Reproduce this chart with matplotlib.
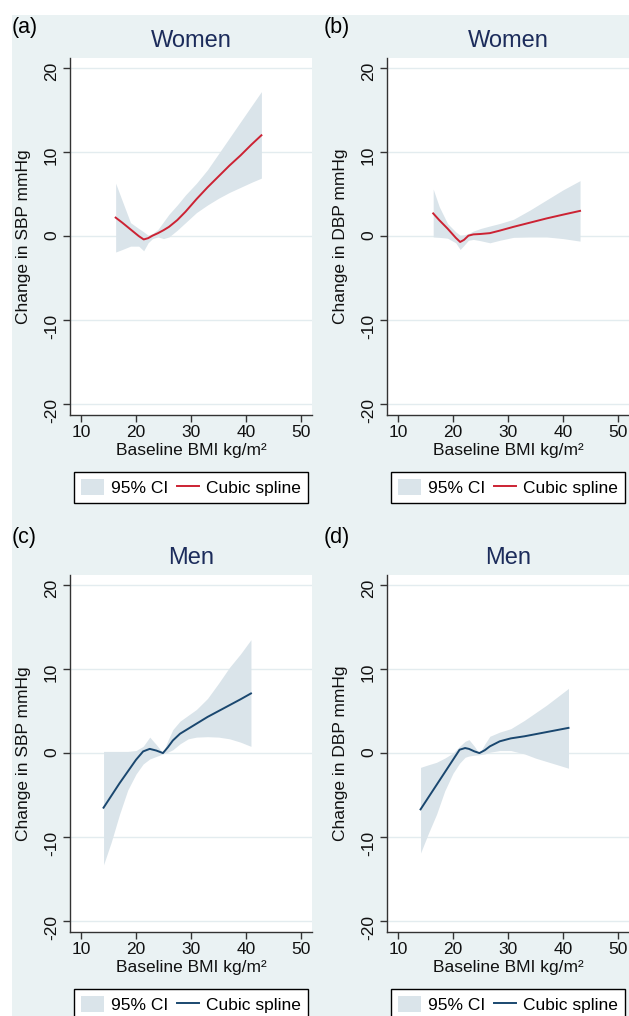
import matplotlib
matplotlib.use("Agg")
import matplotlib.pyplot as plt
from matplotlib.patches import Rectangle, Patch
from matplotlib.lines import Line2D

plt.rcParams['font.family'] = ['Liberation Sans', 'DejaVu Sans']
plt.rcParams['axes.unicode_minus'] = False

# ---- data ----
# (a) Women, SBP
a_bmi = [16.3, 17.5, 19, 20.5, 21.4, 22.2, 23, 24, 25, 26, 27.5, 29, 31, 33, 35, 37, 39, 41, 42.8]
a_fit = [2.2, 1.6, 0.8, 0.0, -0.4, -0.25, 0.05, 0.35, 0.7, 1.1, 1.9, 2.9, 4.4, 5.8, 7.1, 8.4, 9.6, 10.9, 12.0]
a_hi = [6.3, 4.2, 1.6, 0.9, 0.5, 0.1, 0.3, 0.8, 1.7, 2.6, 3.7, 4.9, 6.3, 7.9, 9.8, 11.7, 13.6, 15.5, 17.2]
a_lo = [-1.9, -1.6, -1.2, -1.2, -1.75, -0.8, -0.3, -0.1, -0.3, -0.1, 0.7, 1.6, 2.8, 3.7, 4.5, 5.2, 5.8, 6.4, 6.9]

# (b) Women, DBP
b_bmi = [16.4, 17.5, 19, 20.5, 21.3, 22, 22.8, 23.7, 25, 26.7, 28.5, 31, 34, 37, 40, 43.1]
b_fit = [2.7, 1.9, 0.9, -0.2, -0.7, -0.45, 0.05, 0.2, 0.25, 0.35, 0.65, 1.1, 1.6, 2.1, 2.55, 3.0]
b_hi = [5.6, 3.5, 1.5, 0.5, 0.1, 0.15, 0.3, 0.6, 0.9, 1.2, 1.5, 2.0, 3.1, 4.3, 5.5, 6.6]
b_lo = [-0.1, -0.15, -0.25, -0.8, -1.6, -1.1, -0.5, -0.4, -0.55, -0.8, -0.5, -0.15, -0.1, -0.1, -0.3, -0.6]

# (c) Men, SBP
c_bmi = [14.1, 15.5, 17, 18.5, 20, 21.3, 22.5, 23.7, 24.9, 25.8, 26.7, 28, 29.5, 31, 33, 35, 37, 39, 40.9]
c_fit = [-6.5, -5.1, -3.6, -2.2, -0.8, 0.2, 0.5, 0.3, 0.0, 0.7, 1.5, 2.3, 2.9, 3.5, 4.3, 5.0, 5.7, 6.4, 7.1]
c_hi = [0.2, 0.2, 0.2, 0.2, 0.3, 0.8, 1.9, 1.0, 0.0, 1.5, 2.8, 3.8, 4.5, 5.2, 6.5, 8.3, 10.2, 11.8, 13.5]
c_lo = [-13.3, -10.6, -7.3, -4.4, -2.5, -1.3, -0.7, -0.4, -0.1, 0.1, 0.4, 1.1, 1.7, 1.9, 1.95, 1.9, 1.7, 1.3, 0.8]

# (d) Men, DBP
d_bmi = [14.1, 15.5, 17, 18.5, 20, 21.2, 22.2, 22.9, 23.9, 24.8, 25.8, 26.7, 28.5, 30.5, 33, 35, 37, 39, 41]
d_fit = [-6.7, -5.3, -3.8, -2.3, -0.8, 0.4, 0.6, 0.5, 0.2, 0.0, 0.35, 0.8, 1.4, 1.75, 2.0, 2.25, 2.5, 2.75, 3.0]
d_hi = [-1.7, -1.4, -1.1, -0.6, 0.0, 0.8, 1.4, 1.6, 0.8, -0.1, 1.1, 2.0, 2.5, 2.9, 3.9, 4.8, 5.7, 6.7, 7.7]
d_lo = [-11.9, -9.6, -7.3, -4.5, -2.4, -1.2, -0.5, -0.35, -0.25, -0.2, -0.1, 0.1, 0.3, 0.3, -0.1, -0.6, -1.0, -1.4, -1.8]

x_ticks = [10, 20, 30, 40, 50]
y_ticks = [-20, -10, 0, 10, 20]

BG = '#EAF2F3'
CI_COL = '#DAE4EA'
RED = '#CC2233'
NAVY = '#1A476F'
TITLE_COL = '#1C2C5B'

W, H = 629, 1016
fig = plt.figure(figsize=(W / 100, H / 100), dpi=100)
fig.patches.append(Rectangle((12 / W, 0), 1, (H - 15) / H, transform=fig.transFigure,
                             facecolor=BG, edgecolor='none', zorder=-10))


def px_axes(left, top, right, bottom):
    return fig.add_axes([left / W, 1 - bottom / H, (right - left) / W, (bottom - top) / H])


panels = [
    ('(a)', 'Women', 'Change in SBP mmHg', a_bmi, a_fit, a_hi, a_lo, RED, (70, 58, 312, 415), (12, 27)),
    ('(b)', 'Women', 'Change in DBP mmHg', b_bmi, b_fit, b_hi, b_lo, RED, (387, 58, 629, 415), (324, 27)),
    ('(c)', 'Men', 'Change in SBP mmHg', c_bmi, c_fit, c_hi, c_lo, NAVY, (70, 575, 312, 932), (12, 537)),
    ('(d)', 'Men', 'Change in DBP mmHg', d_bmi, d_fit, d_hi, d_lo, NAVY, (387, 575, 629, 932), (324, 537)),
]

for tag, title, ylab, bmi, fit, hi, lo, col, box, tagpos in panels:
    ax = px_axes(*box)
    ax.set_facecolor('white')
    ax.fill_between(bmi, lo, hi, color=CI_COL, lw=0, zorder=2)
    ax.plot(bmi, fit, color=col, lw=1.4, zorder=3)

    ax.set_xlim(8, 52)
    ax.set_ylim(-21.3, 21.2)
    ax.set_xticks(x_ticks)
    ax.set_yticks(y_ticks)
    ax.yaxis.grid(True, color='#E3ECEF', lw=1.0)
    ax.set_axisbelow(True)
    for s in ['top', 'right']:
        ax.spines[s].set_visible(False)
    for s in ['left', 'bottom']:
        ax.spines[s].set_color('#333333')
        ax.spines[s].set_linewidth(1.0)
    ax.tick_params(length=5, width=1.0, color='#333333', labelsize=12.5, pad=2, labelcolor='#111111')
    ax.tick_params(axis='y', labelrotation=90, pad=3)

    ax.set_title(title, color=TITLE_COL, fontsize=17, pad=8)
    ax.set_ylabel(ylab, fontsize=12.5, color='#111111')
    ax.yaxis.set_label_coords(-0.16, 0.5)
    ax.set_xlabel('Baseline BMI kg/m²', fontsize=12.5, color='#111111')
    ax.xaxis.set_label_coords(0.5, -0.078)

    fig.text(tagpos[0] / W, 1 - tagpos[1] / H, tag, fontsize=15.5, va='center', ha='left')

    cx = (box[0] + box[2]) / 2
    cy = box[3] + 72.5
    handles = [Patch(facecolor=CI_COL, edgecolor='none', label='95% CI'),
               Line2D([], [], color=col, lw=1.4, label='Cubic spline')]
    leg = ax.legend(handles=handles, loc='center', bbox_to_anchor=(cx / W, 1 - cy / H),
                    bbox_transform=fig.transFigure, ncol=2, fontsize=12.5, frameon=True,
                    fancybox=False, framealpha=1, edgecolor='black', borderpad=0.4,
                    handlelength=1.3, handleheight=1.0, handletextpad=0.4, columnspacing=0.5,
                    borderaxespad=0)
    leg.get_frame().set_linewidth(1.0)

fig.savefig('out.png', dpi=100, facecolor='white')
